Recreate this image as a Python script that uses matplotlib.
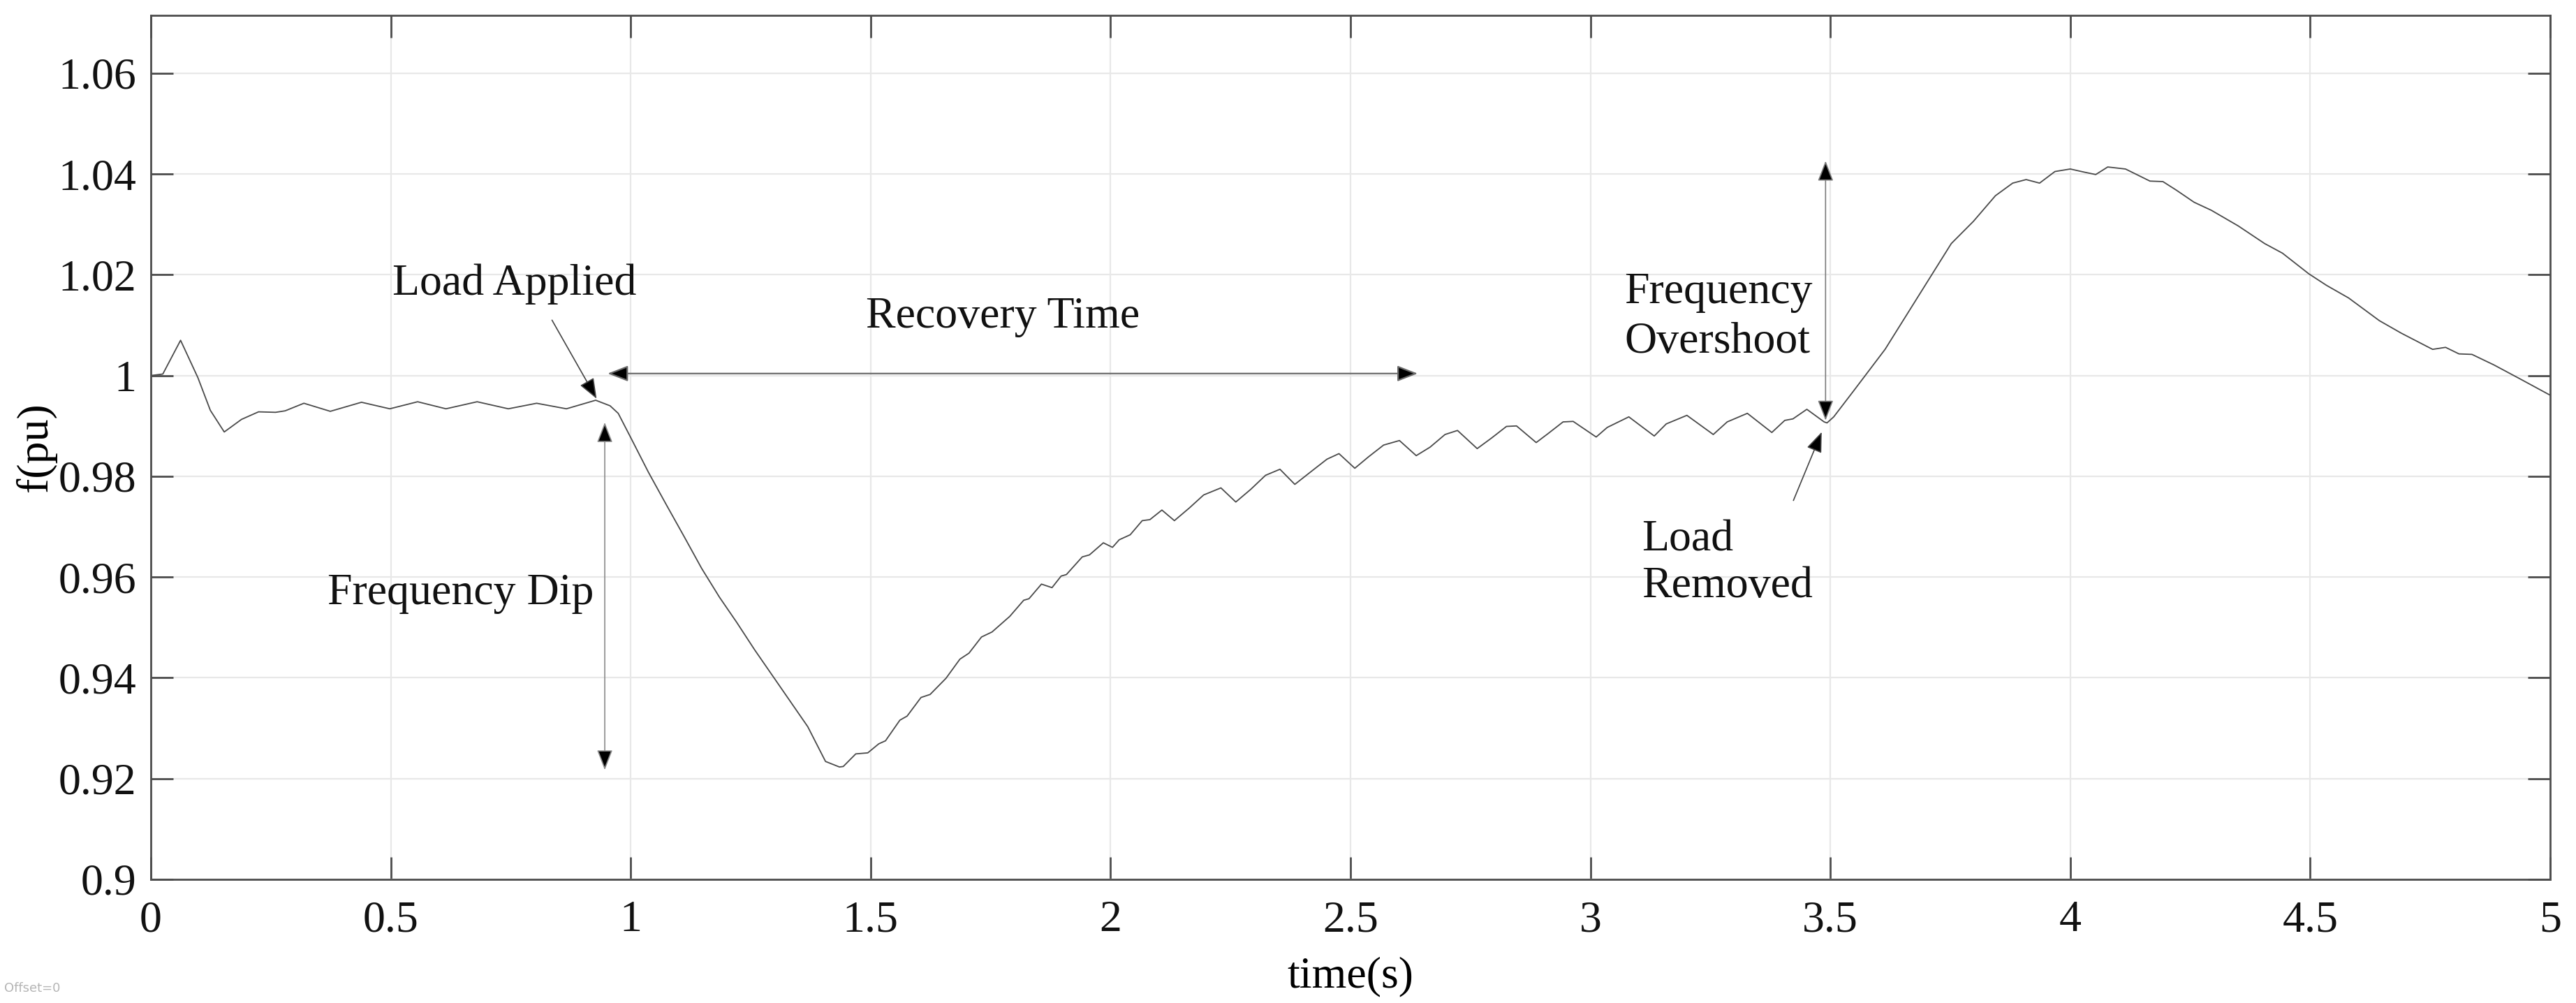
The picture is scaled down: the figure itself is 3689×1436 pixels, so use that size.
import matplotlib
matplotlib.use("Agg")
import matplotlib.pyplot as plt

# ---- data ----
time_s = [0.000, 0.025, 0.062, 0.098, 0.124, 0.153, 0.189, 0.2245, 0.260, 0.280,
          0.319, 0.374, 0.439, 0.498, 0.556, 0.615, 0.680, 0.745, 0.804, 0.866,
          0.927, 0.957, 0.974, 1.000, 1.037, 1.074, 1.111, 1.148, 1.185, 1.221,
          1.258, 1.295, 1.332, 1.369, 1.406, 1.435, 1.443, 1.469, 1.494, 1.517,
          1.531, 1.561, 1.576, 1.605, 1.624, 1.657, 1.686, 1.705, 1.731, 1.753,
          1.790, 1.819, 1.830, 1.856, 1.878, 1.897, 1.908, 1.941, 1.956, 1.985,
          2.004, 2.018, 2.041, 2.066, 2.082, 2.107, 2.133, 2.164, 2.194, 2.230,
          2.261, 2.292, 2.323, 2.353, 2.384, 2.420, 2.451, 2.476, 2.509, 2.538,
          2.569, 2.602, 2.637, 2.666, 2.697, 2.723, 2.764, 2.794, 2.825, 2.846,
          2.887, 2.912, 2.943, 2.964, 3.012, 3.035, 3.080, 3.133, 3.158, 3.201,
          3.256, 3.285, 3.327, 3.378, 3.405, 3.422, 3.451, 3.487, 3.493, 3.507,
          3.548, 3.614, 3.660, 3.706, 3.752, 3.798, 3.844, 3.880, 3.908, 3.936,
          3.968, 4.000, 4.028, 4.053, 4.078, 4.115, 4.166, 4.193, 4.221, 4.258,
          4.294, 4.350, 4.405, 4.442, 4.497, 4.534, 4.580, 4.644, 4.690, 4.755,
          4.782, 4.810, 4.837, 4.883, 4.938, 5.000]
freq_pu = [1.0000, 1.0003, 1.0070, 0.9996, 0.9931, 0.9888, 0.9913, 0.9928, 0.9927, 0.9930,
           0.9945, 0.9929, 0.9947, 0.9934, 0.9948, 0.9934, 0.9948, 0.9934, 0.9945, 0.9934,
           0.9951, 0.9940, 0.9925, 0.9877, 0.9808, 0.9744, 0.9681, 0.9617, 0.9560, 0.9510,
           0.9456, 0.9405, 0.9354, 0.9303, 0.9234, 0.9223, 0.9224, 0.9249, 0.9251, 0.9269,
           0.9275, 0.9316, 0.9324, 0.9361, 0.9367, 0.9399, 0.9437, 0.9449, 0.9481, 0.9491,
           0.9522, 0.9554, 0.9557, 0.9586, 0.9579, 0.9602, 0.9605, 0.9640, 0.9644, 0.9668,
           0.9659, 0.9674, 0.9684, 0.9712, 0.9714, 0.9733, 0.9712, 0.9737, 0.9763, 0.9777,
           0.9749, 0.9774, 0.9802, 0.9814, 0.9784, 0.9811, 0.9834, 0.9845, 0.9816, 0.9839,
           0.9862, 0.9871, 0.9841, 0.9858, 0.9883, 0.9891, 0.9855, 0.9876, 0.9899, 0.9900,
           0.9867, 0.9885, 0.9908, 0.9909, 0.9878, 0.9897, 0.9918, 0.9880, 0.9904, 0.9921,
           0.9883, 0.9908, 0.9925, 0.9887, 0.9911, 0.9914, 0.9933, 0.9908, 0.9906, 0.9918,
           0.9969, 1.0052, 1.0122, 1.0192, 1.0262, 1.0306, 1.0357, 1.0382, 1.0389, 1.0382,
           1.0405, 1.0410, 1.0404, 1.0399, 1.0414, 1.0410, 1.0386, 1.0385, 1.0368, 1.0344,
           1.0328, 1.0297, 1.0262, 1.0243, 1.0202, 1.0179, 1.0154, 1.0109, 1.0084, 1.0052,
           1.0056, 1.0043, 1.0042, 1.0021, 0.9993, 0.9961]

x_ticks = [0, 0.5, 1, 1.5, 2, 2.5, 3, 3.5, 4, 4.5, 5]
x_tick_labels = ["0", "0.5", "1", "1.5", "2", "2.5", "3", "3.5", "4", "4.5", "5"]
y_ticks = [0.9, 0.92, 0.94, 0.96, 0.98, 1.0, 1.02, 1.04, 1.06]
y_tick_labels = ["0.9", "0.92", "0.94", "0.96", "0.98", "1", "1.02", "1.04", "1.06"]

plt.rcParams['font.family'] = ['Liberation Serif', 'DejaVu Serif']
FS = 46

fig = plt.figure(figsize=(36.89, 14.36), dpi=100)
ax = fig.add_axes([0.05855, 0.1233, 0.93142, 0.8614])

ax.plot(time_s, freq_pu, color='#4a4a4a', lw=1.3)

ax.set_xlim(0, 5)
ax.set_ylim(0.9, 1.0715)
ax.set_xticks(x_ticks)
ax.set_xticklabels(x_tick_labels)
ax.set_yticks(y_ticks)
ax.set_yticklabels(y_tick_labels)
ax.grid(True, color='#e8e8e8', lw=1.6)
ax.set_axisbelow(True)

for s in ax.spines.values():
    s.set_color('#4d4d4d')
    s.set_linewidth(2.0)
ax.tick_params(direction='in', length=23, width=2.0, color='#4d4d4d',
               top=True, right=True, labelsize=FS, labelcolor='#111111')
ax.tick_params(axis='x', pad=22)
ax.tick_params(axis='y', pad=15)

ax.set_xlabel('time(s)', fontsize=FS, labelpad=16)
ax.set_ylabel('f(pu)', fontsize=FS, labelpad=2)

def arrow(x0, y0, x1, y1, style, ec, lw):
    ax.annotate('', xy=(x1, y1), xytext=(x0, y0), xycoords='data',
                arrowprops=dict(arrowstyle=style, mutation_scale=1, ec=ec, fc='black',
                                lw=lw, shrinkA=0, shrinkB=0))

head = '-|>,head_length=18,head_width=7'
dhead = '<|-|>,head_length=18,head_width=7'

# Load Applied
ax.text(0.758, 1.0160, 'Load Applied', fontsize=FS, ha='center', va='baseline', color='#111111')
arrow(0.836, 1.0110, 0.929, 0.9954, head, '#444444', 1.2)

# Recovery Time
ax.text(1.776, 1.0095, 'Recovery Time', fontsize=FS, ha='center', va='baseline', color='#111111')
arrow(0.952, 1.0004, 2.640, 1.0004, dhead, '#6a6a6a', 1.6)

# Frequency Dip
ax.text(0.646, 0.9546, 'Frequency Dip', fontsize=FS, ha='center', va='baseline', color='#111111')
arrow(0.946, 0.9217, 0.946, 0.9907, dhead, '#8a8a8a', 1.2)

# Frequency Overshoot
ax.text(3.071, 1.0144, 'Frequency', fontsize=FS, ha='left', va='baseline', color='#111111')
ax.text(3.071, 1.0045, 'Overshoot', fontsize=FS, ha='left', va='baseline', color='#111111')
arrow(3.490, 0.9911, 3.490, 1.0426, dhead, '#7a7a7a', 1.2)

# Load Removed
ax.text(3.107, 0.9652, 'Load', fontsize=FS, ha='left', va='baseline', color='#111111')
ax.text(3.107, 0.9560, 'Removed', fontsize=FS, ha='left', va='baseline', color='#111111')
arrow(3.423, 0.9752, 3.482, 0.9888, head, '#444444', 1.2)

fig.text(0.0016, 0.011, 'Offset=0', fontsize=13, color='#b5b5b5',
         family=['DejaVu Sans'], ha='left', va='baseline')

fig.savefig('out.png', dpi=100, facecolor='white')
